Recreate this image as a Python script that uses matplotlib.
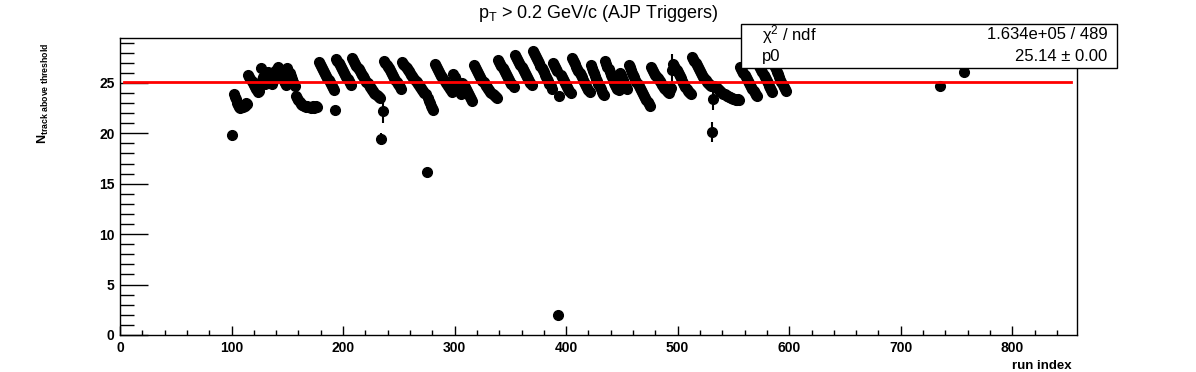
import numpy as np
import matplotlib
matplotlib.use('Agg')
import matplotlib.pyplot as plt
from matplotlib.patches import Rectangle
from matplotlib.ticker import MultipleLocator

plt.rcParams['font.family'] = ['Liberation Sans', 'DejaVu Sans']
plt.rcParams['mathtext.fontset'] = 'custom'
plt.rcParams['mathtext.rm'] = 'Liberation Sans'
plt.rcParams['mathtext.it'] = 'Liberation Sans:italic'
plt.rcParams['mathtext.bf'] = 'Liberation Sans:bold'

### Data: runs of consecutive run indices, start index + values
seg_start = [100, 102, 115, 126, 141, 158, 178, 193, 194, 208, 234, 236, 237,
             253, 275, 276, 282, 299, 307, 317, 339, 354, 370, 388, 393, 394,
             395, 405, 422, 435, 448, 456, 476, 495, 496, 513, 531, 532, 533,
             556, 572, 586, 735, 757]
seg_vals = [
    [19.8],
    [23.9, 23.6, 23.4, 23.0, 22.8, 22.6, 22.5, 22.7, 22.6, 22.8, 22.7, 23.0, 22.9],
    [25.8, 25.6, 25.4, 25.2, 25.0, 24.8, 24.6, 24.4, 24.3, 24.1, 24.2],
    [26.5, 25.3, 25.6, 25.1, 24.9, 25.4, 25.8, 26.1, 25.7, 25.3, 24.9, 25.2, 25.6, 26.2, 25.9],
    [26.4, 26.6, 26.3, 26.0, 25.8, 25.5, 25.2, 25.0, 24.8, 26.5, 26.2, 26.0, 25.7, 25.4, 25.1, 24.9, 24.7],
    [23.7, 23.5, 23.3, 23.1, 22.9, 22.8, 22.8, 22.7, 22.7, 22.6, 22.7, 22.6, 22.6, 22.5, 22.6, 22.7, 22.5, 22.6, 22.7, 22.6],
    [27.1, 26.9, 26.7, 26.5, 26.3, 26.1, 25.9, 25.7, 25.5, 25.3, 25.1, 24.9, 24.7, 24.5, 24.3],
    [22.3],
    [27.4, 27.2, 27.0, 26.8, 26.6, 26.4, 26.2, 26.0, 25.8, 25.6, 25.4, 25.2, 25.0, 24.8],
    [27.5, 27.3, 27.1, 26.9, 26.7, 26.5, 26.4, 26.2, 26.0, 25.8, 25.7, 25.5, 25.3, 25.1, 25.0, 24.8,
     24.6, 24.5, 24.3, 24.2, 24.0, 23.9, 23.8, 23.7, 23.6, 23.5],
    [19.4],
    [22.2],
    [27.2, 27.0, 26.8, 26.6, 26.5, 26.3, 26.1, 25.9, 25.7, 25.5, 25.3, 25.1, 24.9, 24.8, 24.6, 24.4],
    [27.1, 26.9, 26.8, 26.6, 26.5, 26.3, 26.2, 26.0, 25.8, 25.7, 25.5, 25.4, 25.2, 25.1, 24.9, 24.8,
     24.6, 24.5, 24.3, 24.2, 24.0, 23.9],
    [16.2],
    [23.5, 23.2, 23.0, 22.7, 22.5, 22.3],
    [26.9, 26.7, 26.5, 26.3, 26.1, 25.9, 25.7, 25.6, 25.4, 25.2, 25.0, 24.9, 24.7, 24.6, 24.4, 24.3, 24.1],
    [25.9, 25.6, 25.3, 25.0, 24.7, 24.4, 24.1, 23.9],
    [25.0, 24.8, 24.6, 24.4, 24.2, 24.0, 23.8, 23.6, 23.4, 23.2],
    [26.8, 26.6, 26.4, 26.2, 26.0, 25.8, 25.6, 25.4, 25.2, 25.1, 24.9, 24.7, 24.6, 24.4, 24.3, 24.1,
     24.0, 23.9, 23.8, 23.7, 23.6, 23.5],
    [27.3, 27.1, 26.9, 26.7, 26.5, 26.3, 26.1, 25.9, 25.7, 25.5, 25.3, 25.1, 24.9, 24.8, 24.6],
    [27.8, 27.6, 27.4, 27.2, 27.0, 26.8, 26.6, 26.4, 26.2, 26.0, 25.8, 25.6, 25.4, 25.2, 25.0, 24.8],
    [28.2, 28.0, 27.8, 27.6, 27.4, 27.2, 27.0, 26.7, 26.5, 26.3, 26.1, 25.8, 25.6, 25.4, 25.2, 24.9, 24.7, 24.4],
    [27.0, 26.8, 26.6, 26.4, 26.2],
    [2.0],
    [23.7],
    [25.8, 25.6, 25.4, 25.2, 25.0, 24.8, 24.6, 24.4, 24.2, 24.0],
    [27.5, 27.3, 27.1, 26.9, 26.6, 26.4, 26.2, 26.0, 25.8, 25.6, 25.3, 25.1, 24.9, 24.7, 24.5, 24.3, 24.1],
    [26.8, 26.5, 26.2, 26.0, 25.7, 25.4, 25.2, 24.9, 24.6, 24.4, 24.1, 23.9, 23.8],
    [27.2, 26.9, 26.6, 26.4, 26.1, 25.8, 25.6, 25.3, 25.0, 24.8, 24.6, 24.4, 24.3],
    [26.0, 25.8, 25.5, 25.3, 25.0, 24.8, 24.6, 24.4],
    [26.8, 26.6, 26.3, 26.0, 25.8, 25.6, 25.3, 25.1, 24.9, 24.7, 24.5, 24.3, 24.1, 23.9, 23.7, 23.5,
     23.3, 23.1, 22.9, 22.7],
    [26.6, 26.4, 26.2, 26.0, 25.8, 25.7, 25.5, 25.3, 25.2, 25.0, 24.8, 24.7, 24.5, 24.4, 24.2, 24.1,
     24.0, 24.3, 24.5],
    [26.3],
    [26.9, 26.7, 26.5, 26.3, 26.1, 25.9, 25.7, 25.5, 25.2, 25.0, 24.8, 24.6, 24.4, 24.2, 24.1, 24.0, 23.9],
    [27.6, 27.4, 27.2, 27.0, 26.8, 26.6, 26.4, 26.2, 26.0, 25.8, 25.6, 25.5, 25.3, 25.1, 25.0, 24.9, 24.8, 24.7],
    [20.1],
    [23.4],
    [24.7, 24.6, 24.5, 24.4, 24.3, 24.2, 24.1, 24.0, 23.9, 23.9, 23.8, 23.7, 23.7, 23.6, 23.6, 23.5,
     23.5, 23.4, 23.4, 23.3, 23.3, 23.4, 23.3],
    [26.6, 26.4, 26.2, 26.0, 25.8, 25.6, 25.4, 25.2, 25.0, 24.8, 24.6, 24.4, 24.2, 24.0, 23.8, 23.7],
    [26.9, 26.7, 26.5, 26.3, 26.1, 25.8, 25.6, 25.4, 25.2, 25.0, 24.7, 24.5, 24.3, 24.1],
    [26.8, 26.6, 26.4, 26.1, 25.9, 25.6, 25.3, 25.1, 24.8, 24.6, 24.4, 24.2],
    [24.7],
    [26.1],
]

# points with visible error bars (others are hidden under the markers)
err_runs = [100, 234, 236, 275, 393, 394, 495, 531, 532, 735, 757]
err_vals = [0.55, 0.6, 1.2, 0.2, 0.3, 0.4, 1.6, 1.0, 1.1, 0.3, 0.3]

fit_p0 = 25.14
chi2_text = '1.634e+05 / 489'
p0_text = '25.14 ± 0.00'

run_index = np.concatenate([np.arange(s, s + len(v)) for s, v in zip(seg_start, seg_vals)])
n_track = np.concatenate(seg_vals)
err = np.full(len(n_track), 0.1)
for r, e in zip(err_runs, err_vals):
    err[run_index == r] = e

### Plot
fig = plt.figure(figsize=(11.96, 3.72), dpi=100)
ax = fig.add_axes([0.1003, 0.0995, 0.8002, 0.7985])

ax.errorbar(run_index, n_track, yerr=err, fmt='o', color='black', ms=7,
            elinewidth=1.5, capsize=0, zorder=2)
ax.plot([4, 853], [fit_p0, fit_p0], color='red', lw=2, zorder=3)

ax.set_xlim(0, 858)
ax.set_ylim(0, 29.46)
ax.xaxis.set_major_locator(MultipleLocator(100))
ax.xaxis.set_minor_locator(MultipleLocator(20))
ax.yaxis.set_major_locator(MultipleLocator(5))
ax.yaxis.set_minor_locator(MultipleLocator(1))
ax.tick_params(axis='x', which='major', direction='in', length=6.5, width=1, top=False,
               labelsize=10, pad=4)
ax.tick_params(axis='x', which='minor', direction='in', length=3.3, width=1, top=False)
ax.tick_params(axis='y', which='major', direction='in', length=20, width=1, right=False,
               labelsize=10, pad=4)
ax.tick_params(axis='y', which='minor', direction='in', length=10, width=1, right=False)
for lab in ax.get_xticklabels() + ax.get_yticklabels():
    lab.set_fontweight('bold')
for sp in ax.spines.values():
    sp.set_linewidth(1)

# axis titles placed ROOT-style
fig.text(1072 / 1196, 1 - 366 / 372, 'run index', fontsize=9.5, fontweight='bold',
         ha='right', va='center')
fig.text(0.036, 0.75, r'N$_{\mathbf{track\ above\ threshold}}$', rotation=90,
         fontsize=9, fontweight='bold', ha='center', va='center')

fig.text(0.5, 0.965, r'p$_\mathregular{T}$ > 0.2 GeV/c (AJP Triggers)', fontsize=13,
         ha='center', va='center')

# fit statistics box
fig.patches.append(Rectangle((0.6196, 0.8172), 0.3144, 0.1183, transform=fig.transFigure,
                             facecolor='white', edgecolor='black', lw=1, zorder=5))
fig.text(0.637, 0.906, 'χ$^{2}$ / ndf', fontsize=12, ha='left', va='center', zorder=6)
fig.text(0.926, 0.906, chi2_text, fontsize=12, ha='right', va='center', zorder=6)
fig.text(0.637, 0.847, 'p0', fontsize=12, ha='left', va='center', zorder=6)
fig.text(0.926, 0.847, p0_text, fontsize=12, ha='right', va='center', zorder=6)

fig.savefig('out.png', dpi=100, facecolor='white')
